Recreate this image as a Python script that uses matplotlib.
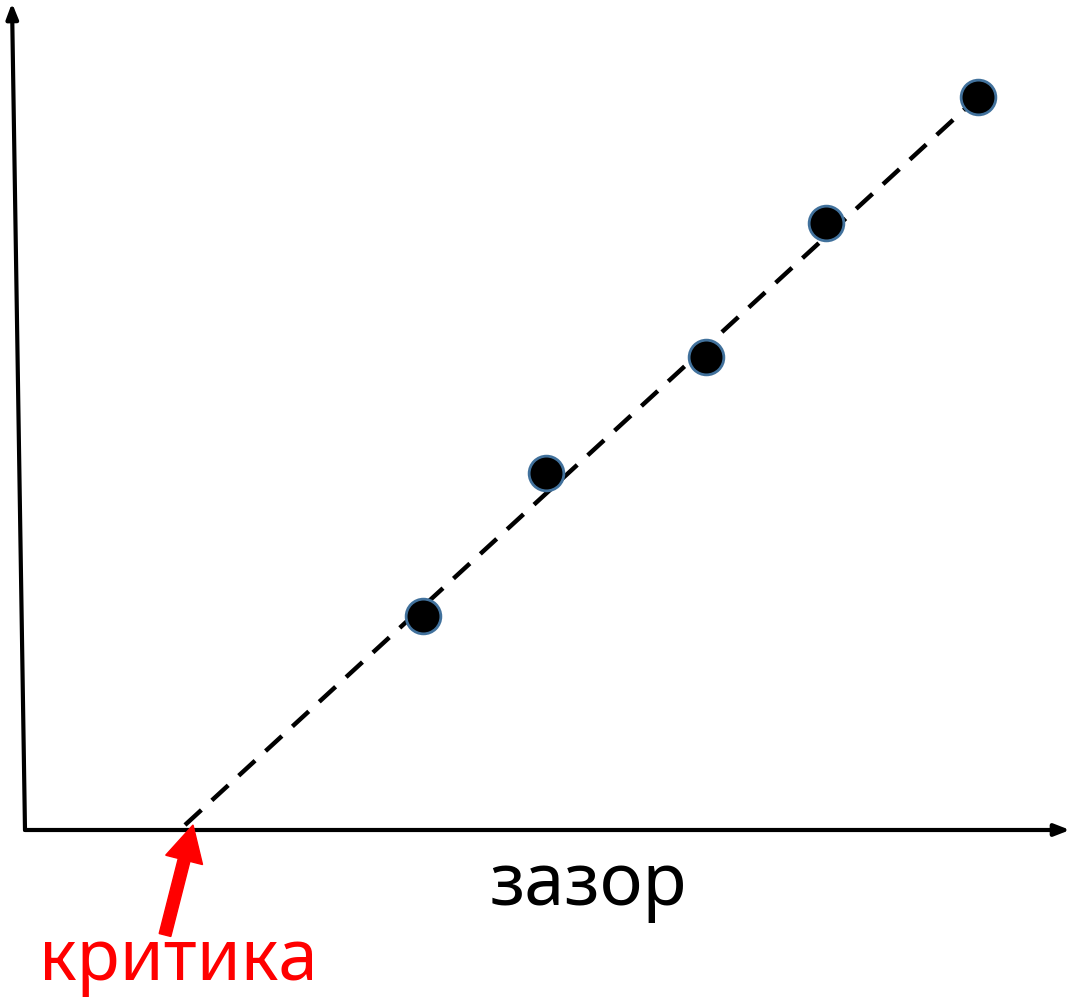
import matplotlib
matplotlib.use("Agg")
import matplotlib.pyplot as plt
from matplotlib.patches import FancyArrow

# data (arbitrary units, origin at axes corner)
gap = [3.98, 5.21, 6.81, 8.01, 9.53]
value = [2.14, 3.57, 4.73, 6.07, 7.33]
fit_x = [1.60, 9.53]
fit_y = [0.05, 7.33]
critical_x = 1.68
x_label = "зазор"
crit_label = "критика"

fig = plt.figure(figsize=(10.76, 10.0), dpi=100)
ax = fig.add_axes([0, 0, 1, 1])
ax.set_xlim(-0.25, 10.51)
ax.set_ylim(-1.70, 8.30)
ax.axis("off")

# axes arrows
ax.annotate("", xy=(10.45, 0), xytext=(0, 0),
            arrowprops=dict(arrowstyle="-|>,head_length=0.9,head_width=0.35",
                            lw=3, color="black", shrinkA=0, shrinkB=0))
ax.annotate("", xy=(-0.13, 8.27), xytext=(0, 0),
            arrowprops=dict(arrowstyle="-|>,head_length=0.9,head_width=0.35",
                            lw=3, color="black", shrinkA=0, shrinkB=0))

# dashed fit line
ax.plot(fit_x, fit_y, color="black", lw=3.2, linestyle=(0, (5, 3.2)), zorder=2)

# points
ax.plot(gap, value, "o", ms=25, mfc="black", mec="#41719C", mew=2, zorder=3)

# red arrow to critical gap
ax.add_patch(FancyArrow(1.40, -1.05, critical_x - 1.40, 0.05 + 1.05,
                        width=0.12, head_width=0.38, head_length=0.36,
                        length_includes_head=True, color="red", zorder=4))

ax.text(1.53, -1.50, crit_label, color="red", fontsize=51, family="Noto Sans",
        ha="center", va="baseline")
ax.text(5.63, -0.75, x_label, color="black", fontsize=52, family="Noto Sans",
        ha="center", va="baseline")

fig.savefig("out.png", dpi=100)
